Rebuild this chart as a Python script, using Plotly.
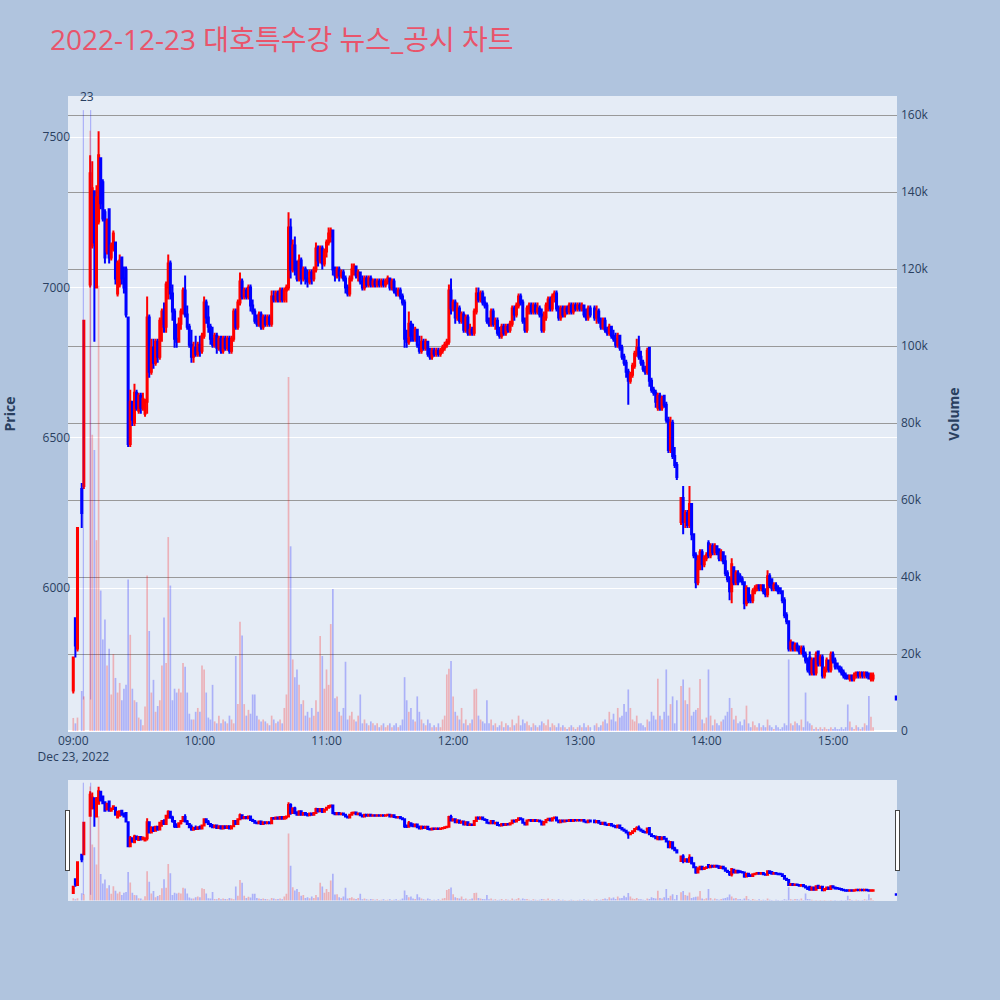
import pandas as pd
import plotly.graph_objects as go
from plotly.subplots import make_subplots

day = "2022-12-23"
title_text = "2022-12-23 대호특수강 뉴스_공시 차트"

# one entry per minute 09:00..15:19, then the 15:30 closing print (None = no trade that minute)
session = list(pd.date_range(f"{day} 09:00", f"{day} 15:19", freq="min"))
times = session + [pd.Timestamp(f"{day} 15:30")]

opens = [
    5660, 5900, 5800, None, 6330, 6340, None, None, 7010, 7140,
    7320, 7000, 7220, 7430, 7350, 7250, 7120, 7260, 7100, 7130,
    7150, 6980, 7010, 7100, 7030, 7060, 6900, 6480, 6620, 6550,
    6650, 6590, 6640, 6600, 6580, 6620, 6900, 6720, 6800, 6750,
    6820, 6770, 6880, 6920, 6870, 7000, 7080, 6980, 6920, 6830,
    6820, 6880, 6920, 6990, 6910, 6870, 6810, 6770, 6800, 6780,
    6810, 6790, 6840, 6950, 6900, 6870, 6830, 6810, 6840, 6800,
    6830, 6790, 6830, 6800, 6830, 6790, 6830, 6920, 6870, 6950,
    7020, 6970, 6990, 6970, 7000, 6940, 6920, 6890, 6880, 6910,
    6870, 6900, 6880, 6900, 6880, 6970, 6960, 6980, 6960, 6990,
    6960, 6990, 7000, 7200, 7060, 7140, 7060, 7030, 7090, 7030,
    7060, 7030, 7020, 7050, 7030, 7060, 7130, 7090, 7130, 7080,
    7120, 7150, 7170, 7190, 7060, 7040, 7060, 7040, 7050, 7030,
    7000, 6980, 7030, 7060, 7070, 7040, 7050, 7020, 7000, 7030,
    7010, 7030, 7010, 7020, 7010, 7020, 7010, 7020, 7010, 7020,
    7030, 7000, 7020, 6990, 6980, 6990, 6970, 6950, 6830, 6820,
    6880, 6840, 6830, 6860, 6810, 6790, 6820, 6800, 6820, 6780,
    6770, 6790, 6780, 6790, 6780, 6790, 6800, 6810, 6820, 6990,
    6930, 6950, 6900, 6930, 6890, 6910, 6860, 6900, 6850, 6860,
    6850, 6920, 6980, 6960, 6980, 6950, 6940, 6890, 6880, 6920,
    6880, 6890, 6850, 6840, 6870, 6850, 6870, 6860, 6880, 6930,
    6910, 6940, 6970, 6950, 6890, 6860, 6930, 6940, 6920, 6940,
    6920, 6930, 6910, 6860, 6900, 6940, 6960, 6930, 6970, 6980,
    6930, 6900, 6930, 6910, 6930, 6920, 6940, 6920, 6940, 6930,
    6940, 6930, 6940, 6910, 6900, 6930, None, 6930, 6900, 6920,
    6890, 6870, 6890, 6860, 6850, 6870, 6840, 6830, 6810, 6840,
    6800, 6770, 6750, 6720, 6690, 6710, 6740, 6780, 6800, 6770,
    6750, 6730, 6720, 6800, 6690, 6660, 6650, 6600, 6640, 6600,
    6640, 6610, 6560, 6460, 6550, 6440, 6410, None, 6220, 6300,
    6220, 6250, 6210, 6280, 6180, 6110, 6020, 6090, 6120, 6080,
    6100, 6150, 6110, 6140, 6120, 6140, 6130, 6100, 6120, 6090,
    6050, 6030, 5990, 6070, 6020, 6050, 6040, 6030, 6020, 5950,
    6000, 5970, 5960, 5990, 6000, 6010, 6000, 6010, 5990, 5980,
    6040, 6030, 6000, 6010, 6000, 6000, 5990, 5960, 5910, 5890,
    5800, 5820, 5800, 5810, 5800, 5790, 5800, 5780, 5760, 5770,
    5720, 5760, 5720, 5790, 5750, 5770, 5710, 5730, 5760, 5730,
    5780, 5760, 5750, 5740, 5730, 5720, 5710, 5710, 5700, 5710,
    5700, 5710, 5720, 5710, 5720, 5710, 5720, 5710, 5700, 5700,
    5640,
]

highs = [
    5770, 5900, 6200, None, 6350, 6890, None, None, 7440, 7420,
    7320, 7340, 7520, 7430, 7360, 7260, 7230, 7260, 7150, 7190,
    7150, 7090, 7110, 7100, 7070, 7070, 6900, 6660, 6620, 6680,
    6660, 6650, 6650, 6650, 6630, 6970, 6910, 6830, 6830, 6830,
    6830, 6900, 6930, 6950, 7020, 7110, 7090, 7010, 6930, 6880,
    6900, 6930, 7000, 7040, 6940, 6880, 6860, 6820, 6840, 6820,
    6840, 6850, 6970, 6960, 6940, 6880, 6870, 6850, 6850, 6840,
    6840, 6840, 6840, 6840, 6840, 6840, 6930, 6930, 6960, 7050,
    7030, 7000, 7000, 7010, 7010, 6960, 6930, 6910, 6920, 6920,
    6910, 6910, 6910, 6910, 6990, 6990, 6990, 6990, 7000, 7000,
    7000, 7010, 7250, 7230, 7160, 7170, 7090, 7110, 7100, 7070,
    7070, 7060, 7060, 7060, 7070, 7150, 7140, 7140, 7140, 7130,
    7160, 7200, 7200, 7190, 7070, 7070, 7070, 7060, 7060, 7040,
    7010, 7040, 7080, 7080, 7070, 7060, 7050, 7040, 7040, 7040,
    7040, 7040, 7030, 7030, 7030, 7030, 7030, 7030, 7030, 7040,
    7030, 7030, 7030, 7000, 7000, 7000, 6980, 6960, 6860, 6920,
    6890, 6880, 6870, 6860, 6840, 6840, 6830, 6830, 6820, 6800,
    6800, 6800, 6800, 6800, 6800, 6810, 6820, 6830, 7010, 7030,
    6960, 6960, 6950, 6940, 6920, 6920, 6910, 6910, 6880, 6870,
    6930, 7000, 7000, 6990, 6990, 6970, 6950, 6900, 6930, 6930,
    6900, 6900, 6870, 6880, 6880, 6880, 6880, 6890, 6940, 6940,
    6950, 6980, 6980, 6960, 6900, 6940, 6950, 6950, 6950, 6950,
    6950, 6940, 6930, 6920, 6950, 6970, 6970, 6980, 6990, 6990,
    6940, 6940, 6940, 6940, 6940, 6950, 6950, 6950, 6950, 6950,
    6950, 6950, 6940, 6930, 6940, 6940, None, 6940, 6940, 6930,
    6900, 6900, 6900, 6870, 6880, 6870, 6860, 6850, 6850, 6840,
    6810, 6780, 6760, 6730, 6720, 6750, 6790, 6830, 6840, 6790,
    6760, 6740, 6800, 6800, 6700, 6670, 6660, 6650, 6650, 6640,
    6640, 6620, 6570, 6570, 6560, 6470, 6420, None, 6300, 6340,
    6260, 6260, 6340, 6280, 6180, 6120, 6110, 6130, 6130, 6110,
    6120, 6160, 6150, 6150, 6150, 6140, 6130, 6130, 6120, 6110,
    6060, 6040, 6100, 6070, 6060, 6060, 6050, 6040, 6020, 6010,
    6000, 5980, 6000, 6010, 6010, 6010, 6010, 6010, 6000, 6060,
    6050, 6030, 6020, 6020, 6010, 6000, 5990, 5970, 5920, 5890,
    5830, 5820, 5820, 5820, 5810, 5810, 5810, 5790, 5770, 5790,
    5770, 5770, 5790, 5790, 5780, 5780, 5740, 5770, 5760, 5790,
    5790, 5770, 5750, 5740, 5740, 5730, 5720, 5710, 5710, 5710,
    5720, 5720, 5720, 5720, 5720, 5720, 5720, 5720, 5720, 5720,
    5640,
]

lows = [
    5650, 5770, 5790, None, 6200, 6330, None, None, 7000, 7130,
    6820, 7000, 7210, 7260, 7220, 7080, 7110, 7080, 7090, 7120,
    7010, 6970, 7000, 7010, 6980, 6900, 6470, 6470, 6540, 6540,
    6590, 6580, 6580, 6590, 6570, 6580, 6700, 6710, 6730, 6740,
    6750, 6760, 6820, 6850, 6850, 6960, 6960, 6890, 6800, 6800,
    6820, 6860, 6910, 6900, 6860, 6800, 6750, 6750, 6770, 6770,
    6770, 6780, 6830, 6880, 6850, 6810, 6800, 6800, 6780, 6790,
    6780, 6780, 6790, 6790, 6780, 6780, 6820, 6860, 6860, 6940,
    6960, 6960, 6960, 6960, 6920, 6910, 6880, 6870, 6870, 6860,
    6860, 6870, 6870, 6870, 6870, 6950, 6950, 6950, 6950, 6950,
    6950, 6950, 6990, 7030, 7050, 7040, 7020, 7020, 7010, 7020,
    7010, 7000, 7010, 7010, 7020, 7050, 7070, 7080, 7060, 7070,
    7100, 7140, 7150, 7040, 7020, 7030, 7020, 7030, 7020, 6980,
    6970, 6970, 7020, 7040, 7030, 7020, 7010, 6990, 6990, 7000,
    7000, 7000, 7000, 7000, 7000, 7000, 7000, 7000, 7000, 7010,
    6990, 6990, 6980, 6970, 6970, 6960, 6940, 6800, 6800, 6810,
    6820, 6820, 6820, 6800, 6780, 6780, 6790, 6790, 6770, 6760,
    6760, 6770, 6770, 6770, 6770, 6780, 6790, 6800, 6810, 6910,
    6920, 6880, 6890, 6880, 6880, 6850, 6850, 6840, 6840, 6840,
    6840, 6910, 6950, 6950, 6940, 6930, 6880, 6870, 6870, 6870,
    6860, 6840, 6830, 6830, 6840, 6840, 6850, 6850, 6870, 6890,
    6900, 6930, 6940, 6880, 6850, 6850, 6910, 6910, 6910, 6910,
    6910, 6900, 6850, 6850, 6890, 6920, 6920, 6920, 6950, 6920,
    6890, 6890, 6900, 6900, 6910, 6910, 6910, 6910, 6920, 6920,
    6920, 6920, 6900, 6890, 6890, 6900, None, 6890, 6880, 6880,
    6860, 6860, 6850, 6840, 6840, 6830, 6820, 6800, 6800, 6790,
    6760, 6740, 6700, 6610, 6680, 6700, 6730, 6770, 6760, 6740,
    6720, 6710, 6710, 6670, 6650, 6640, 6600, 6590, 6590, 6590,
    6600, 6550, 6450, 6450, 6430, 6400, 6360, None, 6210, 6180,
    6200, 6200, 6200, 6160, 6100, 6000, 6010, 6060, 6060, 6070,
    6090, 6100, 6100, 6110, 6110, 6110, 6090, 6090, 6080, 6040,
    6020, 5960, 5950, 6010, 6010, 6010, 6020, 6010, 5930, 5940,
    5950, 5950, 5950, 5980, 5990, 5990, 5990, 5980, 5970, 5970,
    6000, 5990, 5990, 5990, 5980, 5980, 5950, 5900, 5880, 5790,
    5790, 5790, 5790, 5790, 5780, 5780, 5770, 5750, 5720, 5710,
    5710, 5710, 5710, 5740, 5740, 5700, 5700, 5720, 5720, 5720,
    5750, 5730, 5730, 5720, 5710, 5700, 5700, 5700, 5690, 5690,
    5690, 5700, 5700, 5700, 5700, 5700, 5700, 5700, 5690, 5690,
    5630,
]

closes = [
    5770, 5810, 6200, None, 6250, 6890, None, None, 7380, 7330,
    7150, 7300, 7440, 7280, 7230, 7100, 7220, 7100, 7140, 7180,
    7030, 7080, 7090, 7030, 7000, 6910, 6480, 6620, 6560, 6650,
    6600, 6640, 6600, 6630, 6620, 6900, 6720, 6800, 6750, 6820,
    6770, 6890, 6920, 6870, 7010, 7080, 6980, 6920, 6830, 6820,
    6880, 6920, 6990, 6910, 6870, 6810, 6770, 6800, 6780, 6810,
    6790, 6840, 6950, 6900, 6870, 6830, 6810, 6840, 6800, 6830,
    6790, 6830, 6800, 6830, 6790, 6830, 6920, 6870, 6950, 7020,
    6970, 6990, 6970, 7000, 6940, 6920, 6890, 6880, 6910, 6870,
    6900, 6880, 6900, 6880, 6970, 6960, 6980, 6960, 6990, 6960,
    6990, 7000, 7200, 7060, 7140, 7060, 7030, 7090, 7030, 7060,
    7030, 7020, 7050, 7030, 7060, 7130, 7090, 7130, 7080, 7120,
    7150, 7180, 7190, 7060, 7040, 7060, 7040, 7050, 7030, 7000,
    6980, 7030, 7060, 7070, 7040, 7050, 7020, 7000, 7030, 7010,
    7030, 7010, 7020, 7010, 7020, 7010, 7020, 7010, 7020, 7030,
    7000, 7020, 6990, 6980, 6990, 6970, 6950, 6830, 6820, 6880,
    6840, 6830, 6860, 6810, 6790, 6820, 6800, 6820, 6780, 6770,
    6790, 6780, 6790, 6780, 6790, 6800, 6810, 6820, 6990, 6930,
    6950, 6900, 6930, 6890, 6910, 6860, 6900, 6850, 6860, 6850,
    6920, 6980, 6960, 6980, 6950, 6940, 6890, 6880, 6920, 6880,
    6890, 6850, 6840, 6870, 6850, 6870, 6860, 6880, 6930, 6910,
    6940, 6970, 6950, 6890, 6860, 6930, 6940, 6920, 6940, 6920,
    6930, 6910, 6860, 6900, 6940, 6960, 6930, 6970, 6980, 6930,
    6900, 6930, 6910, 6930, 6920, 6940, 6920, 6940, 6930, 6940,
    6930, 6940, 6910, 6900, 6930, 6910, None, 6900, 6920, 6890,
    6870, 6890, 6860, 6850, 6870, 6840, 6830, 6810, 6840, 6800,
    6770, 6750, 6720, 6690, 6710, 6740, 6780, 6800, 6770, 6750,
    6730, 6720, 6790, 6690, 6660, 6650, 6620, 6640, 6600, 6630,
    6610, 6560, 6460, 6550, 6440, 6410, 6370, None, 6300, 6220,
    6250, 6210, 6280, 6180, 6110, 6020, 6090, 6120, 6080, 6100,
    6110, 6110, 6140, 6120, 6140, 6120, 6100, 6120, 6090, 6050,
    6030, 5990, 6080, 6020, 6050, 6020, 6030, 6020, 5950, 6000,
    5960, 5960, 5990, 6000, 6010, 6000, 6010, 5990, 5980, 6040,
    6010, 6000, 6010, 6000, 5990, 5990, 5960, 5910, 5890, 5800,
    5820, 5800, 5810, 5800, 5790, 5800, 5780, 5760, 5730, 5720,
    5760, 5720, 5780, 5750, 5770, 5710, 5730, 5760, 5730, 5780,
    5760, 5740, 5740, 5730, 5720, 5710, 5700, 5700, 5710, 5700,
    5710, 5720, 5710, 5720, 5710, 5720, 5710, 5700, 5710, 5710,
    5630,
]

volumes = [
    3400, 2000, 3500, None, 10400, 9000, None, None, 156000, 77000,
    73000, 49600, 115700, 36500, 23800, 29000, 17000, 21400, 9500, 20000,
    13800, 10000, 12500, 8000, 11000, 12000, 39400, 25000, 11000, 8000,
    7500, 3500, 3000, 1500, 6400, 40400, 26000, 10000, 13300, 5000,
    6500, 8000, 17000, 29500, 17700, 50400, 37800, 8000, 11000, 10000,
    11000, 10000, 17700, 16700, 10000, 4500, 3000, 3000, 5000, 6000,
    5000, 17000, 16000, 10000, 3500, 3000, 12000, 2500, 2000, 4000,
    2000, 3000, 2500, 2000, 4000, 3000, 2000, 19500, 7000, 28400,
    24800, 7000, 4000, 5500, 4500, 9500, 9500, 4000, 3000, 2500,
    3000, 2500, 2000, 1500, 4000, 3000, 2000, 2500, 3000, 2000,
    6000, 9500, 92000, 48000, 18600, 14000, 16000, 12000, 7000, 8000,
    4000, 5000, 3500, 6000, 4000, 8000, 5000, 24700, 19500, 11000,
    16000, 12000, 27800, 36900, 8500, 9000, 5000, 4000, 6000, 18000,
    3000, 4000, 5000, 3000, 2500, 4000, 9500, 2000, 3000, 2000,
    1500, 2500, 2000, 1500, 2000, 1000, 1500, 2000, 1000, 1500,
    2000, 1000, 1500, 2000, 1000, 1500, 3000, 14000, 8000, 5000,
    6000, 3000, 2500, 9000, 5000, 3000, 2000, 1500, 3000, 2000,
    1000, 1500, 1000, 2000, 1000, 3000, 4000, 14700, 16200, 18200,
    9000, 5000, 4000, 3000, 6000, 2000, 3000, 1500, 2000, 3000,
    10800, 11000, 4000, 3000, 2500, 2000, 8000, 2000, 3000, 1500,
    2000, 1000, 1500, 2500, 1000, 2000, 1500, 1000, 3000, 1500,
    2000, 4000, 1500, 3000, 2000, 2500, 1500, 1000, 2000, 1500,
    1000, 1500, 2500, 2000, 1500, 3000, 1000, 2000, 1500, 1000,
    2000, 1000, 1500, 1000, 500, 1000, 1500, 1000, 500, 1000,
    1500, 1000, 2000, 1000, 1500, 1000, None, 1500, 2000, 1000,
    1500, 2500, 3000, 2000, 5000, 3000, 4500, 2500, 6000, 3500,
    4000, 7000, 5000, 10800, 6000, 3000, 2500, 4000, 2000, 2000,
    1500, 1000, 3000, 2500, 5000, 4000, 3000, 13600, 4000, 3000,
    5000, 16000, 4000, 7000, 9000, 2000, 8000, None, 11700, 13400,
    8000, 7000, 11300, 4000, 5000, 5500, 6000, 13500, 3000, 2000,
    3500, 16000, 4000, 1500, 3000, 2000, 1500, 2500, 3000, 4000,
    5000, 8600, 6000, 3000, 4000, 2000, 2500, 1500, 3000, 6600,
    2000, 1000, 2500, 1500, 1000, 2000, 1000, 1500, 1000, 3000,
    1500, 1000, 500, 1500, 1000, 500, 1000, 2000, 1500, 18600,
    2000, 1500, 2500, 2000, 1500, 3000, 1000, 10000, 2500, 2000,
    1500, 500, 1000, 500, 1000, 500, 1000, 500, 500, 1000,
    500, 1000, 500, 500, 1000, 500, 1000, 6900, 2500, 1000,
    500, 1500, 1000, 500, 1000, 2000, 1500, 9100, 3700, 1000,
    0,
]

# news / disclosure markers
news_times = ["2022-12-23 09:04:45", "2022-12-23 09:08:15"]
news_low, news_high = 5630, 7590
news_label = "23"
news_label_time = "2022-12-23 09:06:30"

x_range = ["2022-12-23 08:57:30", "2022-12-23 15:30:20"]
price_range = [5522, 7637]
volume_range = [-250, 165000]

UP, DOWN = "red", "blue"
vol_colors = []
for o, c in zip(opens, closes):
    if o is None or c is None:
        vol_colors.append("rgba(0,0,0,0)")
    elif c >= o:
        vol_colors.append("rgba(255,0,0,0.25)")
    else:
        vol_colors.append("rgba(0,0,255,0.25)")

news_x, news_y = [], []
for t in news_times:
    news_x += [t, t, None]
    news_y += [news_low, news_high, None]

fig = make_subplots(specs=[[{"secondary_y": True}]])

fig.add_trace(
    go.Candlestick(
        x=times, open=opens, high=highs, low=lows, close=closes,
        increasing=dict(line=dict(color=UP, width=2), fillcolor=UP),
        decreasing=dict(line=dict(color=DOWN, width=2), fillcolor=DOWN),
        name="Price", showlegend=False,
    ),
    secondary_y=False,
)
fig.add_trace(
    go.Scatter(x=news_x, y=news_y, mode="lines",
               line=dict(color="rgba(0,0,255,0.3)", width=1),
               hoverinfo="skip", showlegend=False),
    secondary_y=False,
)
fig.add_trace(
    go.Bar(x=times, y=volumes, marker=dict(color=vol_colors, line=dict(width=0)),
           name="Volume", showlegend=False),
    secondary_y=True,
)

fig.add_annotation(x=news_label_time, y=1, xref="x", yref="paper",
                   text=news_label, showarrow=False, yanchor="middle",
                   font=dict(size=12, color="#2a3f5f"))

fig.update_layout(
    width=1000, height=1000,
    autosize=False,
    template="plotly",
    paper_bgcolor="#B0C4DE",
    margin=dict(l=68, r=103, t=96, b=100),
    font=dict(family="Open Sans, Noto Sans CJK KR, sans-serif"),
    title=dict(text=title_text, x=0.05, xanchor="left", y=0.96, yanchor="middle",
               font=dict(size=28, color="#E9546B",
                         family="Open Sans, Noto Sans CJK KR, sans-serif")),
    showlegend=False,
    bargap=0.2,
)
fig.update_xaxes(domain=[0, 1], range=x_range,
                 rangeslider=dict(visible=True, range=x_range))
fig.update_yaxes(title=dict(text="<b>Price</b>", standoff=23), range=price_range,
                 dtick=500, ticklabelstandoff=-3, automargin=False,
                 secondary_y=False)
fig.update_yaxes(title=dict(text="<b>Volume</b>", standoff=21), range=volume_range,
                 dtick=20000, showgrid=True, gridcolor="#999999",
                 ticklabelstandoff=3, secondary_y=True)

fig.write_html(
    "out.html",
    config={"responsive": False, "displayModeBar": False},
    post_script="document.body.style.margin='0px';document.body.style.overflow='hidden';",
)
